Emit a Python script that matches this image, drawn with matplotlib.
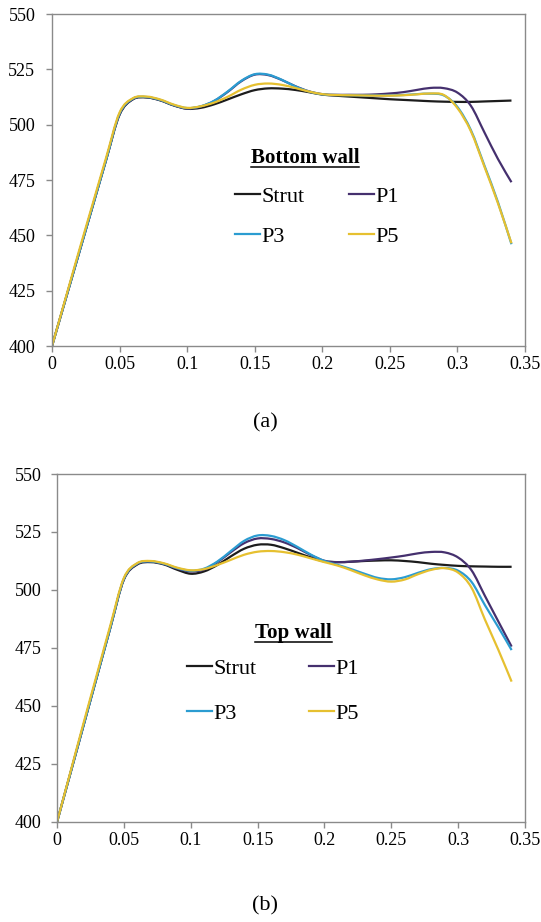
import matplotlib
matplotlib.use('Agg')
import matplotlib.pyplot as plt
from matplotlib.lines import Line2D
from matplotlib.path import Path
from matplotlib.patches import PathPatch

plt.rcParams['font.family'] = ['Liberation Serif', 'DejaVu Serif']

x = [0, 0.01, 0.02, 0.03, 0.04, 0.05, 0.06, 0.07, 0.08, 0.09, 0.10, 0.11,
     0.12, 0.13, 0.14, 0.15, 0.16, 0.17, 0.18, 0.19, 0.20, 0.21, 0.22, 0.23,
     0.24, 0.25, 0.26, 0.27, 0.28, 0.29, 0.30, 0.31, 0.32, 0.33, 0.34]

# (a) bottom wall
bot_strut = [400, 421, 442, 463, 484, 504.5, 511.5, 512.3, 511, 508.7, 507.2, 507.6,
             509.2, 511.4, 513.7, 515.6, 516.4, 516.3, 515.7, 514.7, 513.6, 513.1, 512.7, 512.3,
             511.9, 511.5, 511.2, 510.9, 510.6, 510.4, 510.3, 510.3, 510.5, 510.7, 510.9]
bot_p1 = [400, 421, 442, 463, 484, 504.7, 511.6, 512.4, 511.1, 508.8, 507.3, 508.2,
          510.7, 514.8, 519.6, 522.6, 522.4, 520.2, 517.4, 515.1, 513.8, 513.5, 513.5, 513.5,
          513.7, 514.1, 514.7, 515.7, 516.6, 516.5, 514.5, 508.5, 496.5, 484.5, 474]
bot_p3 = [400, 421, 442, 463, 484, 505, 511.8, 512.5, 511.2, 508.9, 507.5, 508.3,
          510.8, 515, 519.8, 522.8, 522.6, 520.3, 517.3, 515, 513.7, 513.4, 513.3, 513.2,
          513.2, 513.2, 513.4, 513.8, 514, 513.2, 508, 497.5, 481.5, 465, 446]
bot_p5 = [400, 421.5, 443, 464, 485, 505.5, 512, 512.7, 511.4, 509.1, 507.6, 508.3,
          510, 512.6, 515.8, 518, 518.6, 518, 516.6, 515, 513.8, 513.4, 513.3, 513.2,
          513.1, 513.1, 513.3, 513.7, 514.1, 513.4, 507.5, 497, 481, 464.5, 446.4]

# (b) top wall
top_strut = [400, 421, 442, 463, 484, 504.5, 511, 512, 511, 508.7, 507, 508,
             510.8, 514.5, 517.8, 519.5, 519.5, 518, 516, 514, 512.3, 512, 512.2, 512.5,
             512.7, 512.8, 512.5, 512, 511.3, 510.8, 510.4, 510.2, 510.1, 510, 510]
top_p1 = [400, 421, 442, 463, 484, 504.6, 511.2, 512.2, 511.2, 509.2, 508, 508.8,
          512, 516.3, 520.2, 522.2, 522, 520.5, 518, 515, 512.6, 512, 512.2, 512.7,
          513.3, 514, 514.8, 515.8, 516.4, 516.2, 514, 508.5, 497.5, 486.5, 475.6]
top_p3 = [400, 421, 442, 463, 484, 504.8, 511.4, 512.3, 511.3, 509.4, 508.3, 509.2,
          512.3, 516.8, 521.2, 523.5, 523.3, 521.5, 518.5, 515.2, 512.5, 510.8, 509, 507,
          505.2, 504.6, 505.5, 507.4, 509, 509.5, 508.3, 503.5, 493.5, 484, 474.1]
top_p5 = [400, 421.5, 443, 464, 485, 505.2, 511.6, 512.5, 511.5, 509.6, 508.5, 509,
          510.8, 513, 515.2, 516.5, 516.8, 516.3, 515.2, 513.6, 512, 510.5, 508.5, 506.3,
          504.5, 503.6, 504.5, 506.8, 508.7, 509.4, 507.5, 501, 487.3, 474.3, 460.5]

names = ['Strut', 'P1', 'P3', 'P5']
colors = ['#1c1c1c', '#45306e', '#2b9cd1', '#e6c030']

yticks = [400, 425, 450, 475, 500, 525, 550]
xticks = [0, 0.05, 0.1, 0.15, 0.2, 0.25, 0.3, 0.35]
xlabels = ['0', '0.05', '0.1', '0.15', '0.2', '0.25', '0.3', '0.35']


def smooth_path(xs, ys):
    # spreadsheet-style smoothed line: cubic bezier through every point
    n = len(xs)
    verts = [(xs[0], ys[0])]
    codes = [Path.MOVETO]
    for i in range(n - 1):
        p0 = (xs[max(i - 1, 0)], ys[max(i - 1, 0)])
        p1 = (xs[i], ys[i])
        p2 = (xs[i + 1], ys[i + 1])
        p3 = (xs[min(i + 2, n - 1)], ys[min(i + 2, n - 1)])
        c1 = (p1[0] + (p2[0] - p0[0]) / 6, p1[1] + (p2[1] - p0[1]) / 6)
        c2 = (p2[0] - (p3[0] - p1[0]) / 6, p2[1] - (p3[1] - p1[1]) / 6)
        verts += [c1, c2, p2]
        codes += [Path.CURVE4] * 3
    return Path(verts, codes)


fig = plt.figure(figsize=(5.41, 9.22), dpi=100)
ax1 = fig.add_axes([0.0961, 0.6247, 0.8743, 0.3601])
ax2 = fig.add_axes([0.1054, 0.1085, 0.8650, 0.3774])


def style_axes(ax, ypad):
    ax.set_xlim(0, 0.35)
    ax.set_ylim(400, 550)
    ax.set_xticks(xticks)
    ax.set_xticklabels(xlabels)
    ax.set_yticks(yticks)
    for s in ax.spines.values():
        s.set_color('#8a8a8a')
        s.set_linewidth(1.0)
    ax.tick_params(axis='x', direction='out', length=4, width=1, color='#8a8a8a',
                   labelsize=13, pad=3)
    ax.tick_params(axis='y', direction='out', length=4, width=1, color='#8a8a8a',
                   labelsize=13, pad=ypad)


panels = [
    (ax1, [bot_strut, bot_p1, bot_p3, bot_p5], 'Bottom wall', (0.535, 0.566), (0.560, 0.390), 0.85, 2.0, 8),
    (ax2, [top_strut, top_p1, top_p3, top_p5], 'Top wall', (0.506, 0.543), (0.4615, 0.376), 1.1, 2.35, 7),
]

titles = []
for ax, series, title, tpos, lpos, lspace, cspace, ypad in panels:
    handles = {}
    for name, ys, c in zip(names, series, colors):
        ax.add_patch(PathPatch(smooth_path(x, ys), fill=False, edgecolor=c, lw=1.6,
                               joinstyle='round', capstyle='butt'))
        handles[name] = Line2D([], [], color=c, lw=1.6)
    style_axes(ax, ypad)
    # column-wise fill: Strut/P3 in the first column, P1/P5 in the second
    order = ['Strut', 'P3', 'P1', 'P5']
    ax.legend([handles[k] for k in order], order, loc='center', bbox_to_anchor=lpos,
              ncol=2, frameon=False, fontsize=16, handlelength=1.13, handletextpad=0.05,
              labelspacing=lspace, columnspacing=cspace)
    t = ax.text(tpos[0], tpos[1], title, transform=ax.transAxes, ha='center',
                va='center', fontsize=15, fontweight='bold')
    titles.append(t)

fig.text(0.49, 1 - 423 / 922, '(a)', ha='center', va='center', fontsize=16)
fig.text(0.49, 1 - 906 / 922, '(b)', ha='center', va='center', fontsize=16)

# underline the legend headings
fig.canvas.draw()
inv = fig.transFigure.inverted()
for t in titles:
    bb = t.get_window_extent()
    (x0, y0), (x1, y1) = inv.transform([(bb.x0, bb.y0), (bb.x1, bb.y1)])
    fig.add_artist(Line2D([x0, x1], [y0 + 0.0008, y0 + 0.0008], color='black',
                          lw=1.1, transform=fig.transFigure))

fig.savefig('out.png', dpi=100)
